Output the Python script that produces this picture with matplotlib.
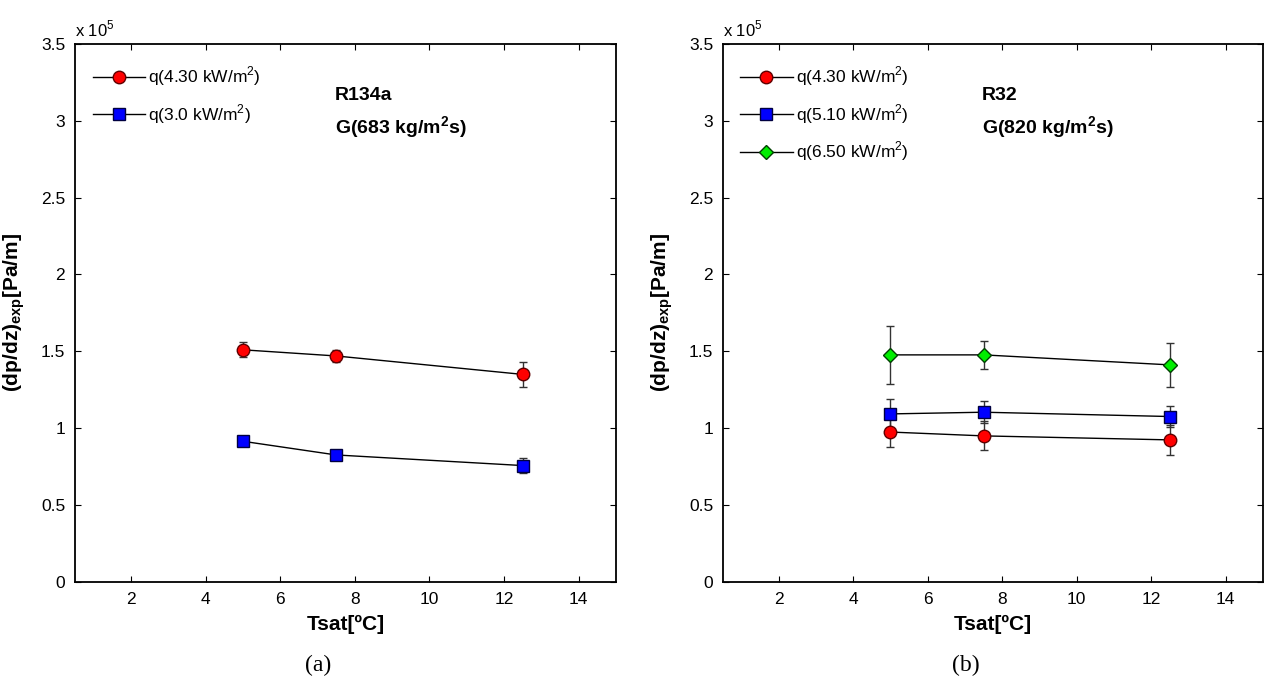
import matplotlib
matplotlib.use("Agg")
import matplotlib.pyplot as plt
from matplotlib import font_manager

# pick a narrow sans if available (MATLAB look), else Liberation Sans
names = {f.name for f in font_manager.fontManager.ttflist}
sans = "Liberation Sans Narrow" if "Liberation Sans Narrow" in names else "Liberation Sans"
plt.rcParams['font.family'] = [sans, 'DejaVu Sans']
plt.rcParams['mathtext.fontset'] = 'custom'
plt.rcParams['mathtext.rm'] = sans
plt.rcParams['mathtext.bf'] = sans + ':bold'

# saturation temperatures [C]
tsat = [5.0, 7.5, 12.5]

# (a) R134a, G = 683 kg/m2s, dp/dz in 10^5 Pa/m
r134a_q430 = [1.51, 1.47, 1.35]
r134a_q430_err = [0.05, 0.04, 0.08]
r134a_q300 = [0.915, 0.826, 0.757]
r134a_q300_err = [0.02, 0.02, 0.05]

# (b) R32, G = 820 kg/m2s
r32_q430 = [0.975, 0.950, 0.924]
r32_q430_err = [0.10, 0.095, 0.10]
r32_q510 = [1.093, 1.104, 1.076]
r32_q510_err = [0.095, 0.07, 0.07]
r32_q650 = [1.477, 1.477, 1.412]
r32_q650_err = [0.19, 0.09, 0.145]

labels_a = [r'q(4.30 kW/m$^2$)', r'q(3.0 kW/m$^2$)']
labels_b = [r'q(4.30 kW/m$^2$)', r'q(5.10 kW/m$^2$)', r'q(6.50 kW/m$^2$)']

xticks = [2, 4, 6, 8, 10, 12, 14]
yticks = [0, 0.5, 1, 1.5, 2, 2.5, 3, 3.5]

fig = plt.figure(figsize=(12.66, 6.83), dpi=100)
axA = fig.add_axes([0.0592, 0.148, 0.4273, 0.7877])
axB = fig.add_axes([0.571, 0.148, 0.4265, 0.7877])

styles = {
    'red': dict(marker='o', mfc='#ff0000', mec='#600000', ms=9),
    'blue': dict(marker='s', mfc='#0000ff', mec='#000040', ms=8),
    'green': dict(marker='D', mfc='#00ee00', mec='#004000', ms=7),
}


def series(ax, y, err, style):
    c = ax.errorbar(tsat, y, yerr=err, color='k', lw=1.0, ecolor='#333333',
                    elinewidth=1.0, capsize=3, capthick=1.0,
                    **styles[style])
    return c[0]


hA = [series(axA, r134a_q430, r134a_q430_err, 'red'),
      series(axA, r134a_q300, r134a_q300_err, 'blue')]

hB = [series(axB, r32_q430, r32_q430_err, 'red'),
      series(axB, r32_q510, r32_q510_err, 'blue'),
      series(axB, r32_q650, r32_q650_err, 'green')]

for ax, hs, labs, fluid, flux, cap in [
        (axA, hA, labels_a, 'R134a', r'G(683 kg/m$^\mathbf{2}$s)', '(a)'),
        (axB, hB, labels_b, 'R32', r'G(820 kg/m$^\mathbf{2}$s)', '(b)')]:
    ax.set_xlim(0.5, 15)
    ax.set_ylim(0, 3.5)
    ax.set_xticks(xticks)
    ax.set_yticks(yticks)
    ax.set_yticklabels(['0', '0.5', '1', '1.5', '2', '2.5', '3', '3.5'])
    ax.tick_params(direction='in', top=True, right=True, length=4,
                   labelsize=12.5, pad=7)
    for sp in ax.spines.values():
        sp.set_linewidth(1.3)
    ax.set_xlabel(u'Tsat[\u00baC]', fontsize=15, fontweight='bold', labelpad=6)
    ax.set_ylabel(r'$\mathbf{(dp/dz)_{exp}[Pa/m]}$', fontsize=15, labelpad=10)
    ax.text(0.0, 1.008, r'x 10$^5$', transform=ax.transAxes, fontsize=12,
            ha='left', va='bottom')
    ax.text(0.48, 0.905, fluid, transform=ax.transAxes, fontsize=14,
            fontweight='bold', ha='left', va='center')
    ax.text(0.48, 0.845, flux, transform=ax.transAxes, fontsize=14,
            fontweight='bold', ha='left', va='center')
    ax.legend(hs, labs, loc='upper left', frameon=False, fontsize=12.5,
              handlelength=3.0, labelspacing=0.8, borderaxespad=0.3,
              handletextpad=0.2, bbox_to_anchor=(0.01, 0.984))
    ax.text(0.45, -0.135, cap, transform=ax.transAxes, fontsize=17,
            family='Liberation Serif', ha='center', va='top')

fig.savefig('out.png', dpi=100)
